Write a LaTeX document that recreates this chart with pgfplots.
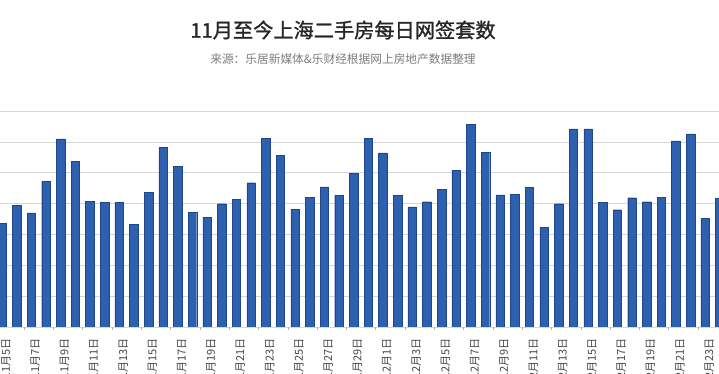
\documentclass[border=0pt]{standalone}
\usepackage{pgfplots}
\pgfplotsset{compat=1.18}
\usepackage{fontspec}
\setmainfont{Noto Sans CJK SC}
\newfontfamily\titlefont[FakeBold=1.3]{Noto Sans CJK SC}
\definecolor{barblue}{RGB}{46,96,176}
\definecolor{baredge}{RGB}{32,70,138}
\definecolor{gridgray}{RGB}{214,214,214}
\definecolor{titlegray}{RGB}{38,38,38}
\definecolor{subgray}{RGB}{125,125,125}
\definecolor{labgray}{RGB}{70,70,70}
\begin{document}
\begin{tikzpicture}[x=1pt,y=1pt]
\useasboundingbox (0,0) rectangle (719,374);
\fill[white] (0,0) rectangle (719,374);
\begin{scope}
\clip (0,0) rectangle (719,374);
\begin{axis}[
  at={(-6.79pt,47pt)}, anchor=south west,
  scale only axis, width=735.43pt, height=216pt,
  xmin=-0.6, xmax=49.6, ymin=0, ymax=1400,
  ybar, bar width=8.5pt,
  axis line style={draw=none},
  ytick={0,200,...,1400}, yticklabels={},
  ymajorgrids, grid style={gridgray, line width=0.6pt},
  major tick length=0pt,
  tick pos=left,
  xtick={0.27,2.27,...,48.3},
  xticklabels={11月5日,11月7日,11月9日,11月11日,11月13日,11月15日,11月17日,11月19日,11月21日,11月23日,11月25日,11月27日,11月29日,12月1日,12月3日,12月5日,12月7日,12月9日,12月11日,12月13日,12月15日,12月17日,12月19日,12月21日,12月23日},
  xticklabel shift=11pt,
  xticklabel style={rotate=90, anchor=east, inner sep=0pt, text=labgray, font=\fontsize{11}{13}\selectfont},
  extra x ticks={1.5,3.5,...,47.5}, extra x tick labels={},
  extra x tick style={major tick length=3pt, tick align=outside, tick style={draw=gray!60}, grid=none},
]
\addplot[fill=barblue, draw=baredge, line width=0.4pt] coordinates {
(0,673) (1,788) (2,740) (3,944) (4,1219) (5,1073) (6,814) (7,807) (8,807) (9,664)
(10,872) (11,1164) (12,1041) (13,745) (14,712) (15,799) (16,829) (17,935) (18,1223) (19,1112)
(20,762) (21,842) (22,909) (23,855) (24,998) (25,1223) (26,1128) (27,853) (28,779) (29,812)
(30,890) (31,1015) (32,1312) (33,1132) (34,857) (35,860) (36,907) (37,647) (38,799) (39,1284)
(40,1284) (41,807) (42,760) (43,838) (44,812) (45,840) (46,1206) (47,1251) (48,706) (49,833)
};
\end{axis}
\end{scope}
\node[font=\titlefont\fontsize{20.2}{24}\selectfont, text=titlegray] at (343,344) {11月至今上海二手房每日网签套数};
\node[font=\fontsize{11.7}{14}\selectfont, text=subgray] at (343,315) {来源：乐居新媒体\&乐财经根据网上房地产数据整理};
\end{tikzpicture}
\end{document}
